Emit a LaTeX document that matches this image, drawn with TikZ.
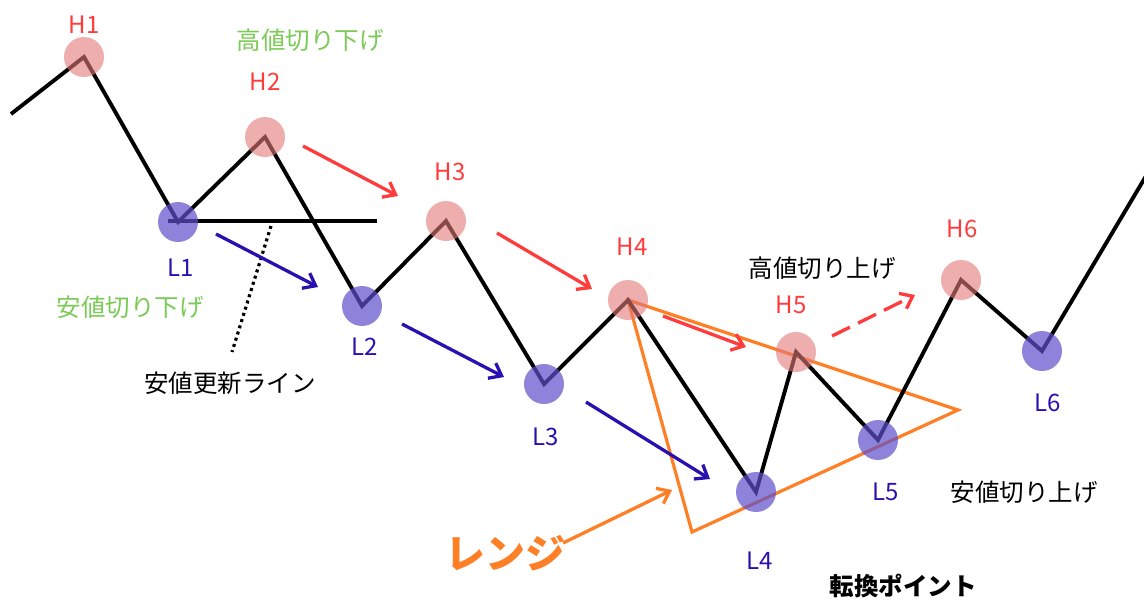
\documentclass[tikz,border=0pt]{standalone}
\usepackage{fontspec}
\setmainfont{Noto Sans CJK JP}
\usetikzlibrary{arrows.meta}
\definecolor{hred}{HTML}{FF3B3B}
\definecolor{lblue}{HTML}{2A10B0}
\definecolor{hcirc}{HTML}{E27878}
\definecolor{lcirc}{HTML}{5E4FCB}
\definecolor{jgreen}{HTML}{7ACB55}
\definecolor{rorange}{HTML}{FF7F27}
\tikzset{
  pivot/.style={line width=3.9pt, black, line join=miter},
  hdot/.style={circle, minimum size=40pt, inner sep=0pt, fill=hcirc, fill opacity=0.6},
  ldot/.style={circle, minimum size=40pt, inner sep=0pt, fill=lcirc, fill opacity=0.7},
  hlab/.style={text=hred, font=\fontsize{24}{28}\selectfont},
  llab/.style={text=lblue, font=\fontsize{24}{28}\selectfont},
  jtext/.style={font=\fontsize{24.5}{28}\selectfont},
  redarrow/.style={hred, line width=3.3pt, -{Straight Barb[length=11pt,width=17pt,line width=3.3pt]}},
  bluearrow/.style={lblue, line width=3.3pt, -{Straight Barb[length=11pt,width=17pt,line width=3.3pt]}},
  orangearrow/.style={rorange, line width=3.3pt, -{Straight Barb[length=11pt,width=17pt,line width=3.3pt]}},
}
\begin{document}
\begin{tikzpicture}[x=1pt,y=-1pt]
\useasboundingbox (0,0) rectangle (1144,603);
% pivot coordinates
\coordinate (S) at (11,114);
\coordinate (H1) at (84,57);
\coordinate (L1) at (178,222);
\coordinate (H2) at (265,137);
\coordinate (L2) at (362,306);
\coordinate (H3) at (446,221);
\coordinate (L3) at (544,384);
\coordinate (H4) at (628,300);
\coordinate (L4) at (756,492);
\coordinate (H5) at (796,352);
\coordinate (L5) at (878,440);
\coordinate (H6) at (961,280);
\coordinate (L6) at (1042,351);
\coordinate (E) at (1146,176);
% orange range triangle
\coordinate (TR) at (958,410);
\coordinate (TB) at (692,532);
\draw[rorange, line width=3.2pt, line join=miter] (H4) -- (TR) -- (TB) -- cycle;
% support line and dotted
\coordinate (SL1) at (168,221);
\coordinate (SL2) at (377,221);
\draw[line width=3.6pt] (SL1) -- (SL2);
\coordinate (D1) at (271,226);
\coordinate (D2) at (232,352);
\draw[line width=3.2pt, dash pattern=on 3pt off 3.5pt] (D1) -- (D2);
% zigzag
\draw[pivot] (S) -- (H1) -- (L1) -- (H2) -- (L2) -- (H3) -- (L3) -- (H4) -- (L4) -- (H5) -- (L5) -- (H6) -- (L6) -- (E);
% circles
\foreach \p in {H1,H2,H3,H4,H5,H6} \node[hdot] (c\p) at (\p) {};
\foreach \p in {L1,L2,L3,L4,L5,L6} \node[ldot] (c\p) at (\p) {};
% labels
\node[hlab] (tH1) at (84,25) {H1};
\node[hlab] (tH2) at (265,82) {H2};
\node[hlab] (tH3) at (450,172) {H3};
\node[hlab] (tH4) at (632,247) {H4};
\node[hlab] (tH5) at (791,305) {H5};
\node[hlab] (tH6) at (962,229) {H6};
\node[llab] (tL1) at (181,268) {L1};
\node[llab] (tL2) at (365,347) {L2};
\node[llab] (tL3) at (546,437) {L3};
\node[llab] (tL4) at (760,561) {L4};
\node[llab] (tL5) at (886,492) {L5};
\node[llab] (tL6) at (1048,403) {L6};
\node[jtext, text=jgreen] (t1) at (310,40) {高値切り下げ};
\node[jtext, text=jgreen] (t2) at (130,307) {安値切り下げ};
\node[jtext] (t3) at (230,383) {安値更新ライン};
\node[jtext] (t4) at (822,268) {高値切り上げ};
\node[jtext] (t5) at (1024,492) {安値切り上げ};
\node[jtext, font=\fontsize{24.5}{28}\selectfont\bfseries] (t6) at (903,586) {転換ポイント};
\node[text=rorange, font=\fontsize{40}{44}\selectfont\bfseries] (t7) at (505,553) {レンジ};
% red arrows
\coordinate (ra1) at (303,146); \coordinate (rb1) at (398,196);
\coordinate (ra2) at (497,233); \coordinate (rb2) at (592,289);
\coordinate (ra3) at (663,316); \coordinate (rb3) at (746,347);
\coordinate (ra4) at (832,336); \coordinate (rb4) at (915,295);
\draw[redarrow] (ra1) -- (rb1);
\draw[redarrow] (ra2) -- (rb2);
\draw[redarrow] (ra3) -- (rb3);
\draw[redarrow, dash pattern=on 20pt off 9pt] (ra4) -- (rb4);
% blue arrows
\coordinate (ba1) at (216,234); \coordinate (bb1) at (318,287);
\coordinate (ba2) at (402,324); \coordinate (bb2) at (504,377);
\coordinate (ba3) at (586,402); \coordinate (bb3) at (710,479);
\draw[bluearrow] (ba1) -- (bb1);
\draw[bluearrow] (ba2) -- (bb2);
\draw[bluearrow] (ba3) -- (bb3);
% orange arrow
\coordinate (oa) at (563,543); \coordinate (ob) at (672,490);
\draw[orangearrow] (oa) -- (ob);
\end{tikzpicture}
\end{document}
